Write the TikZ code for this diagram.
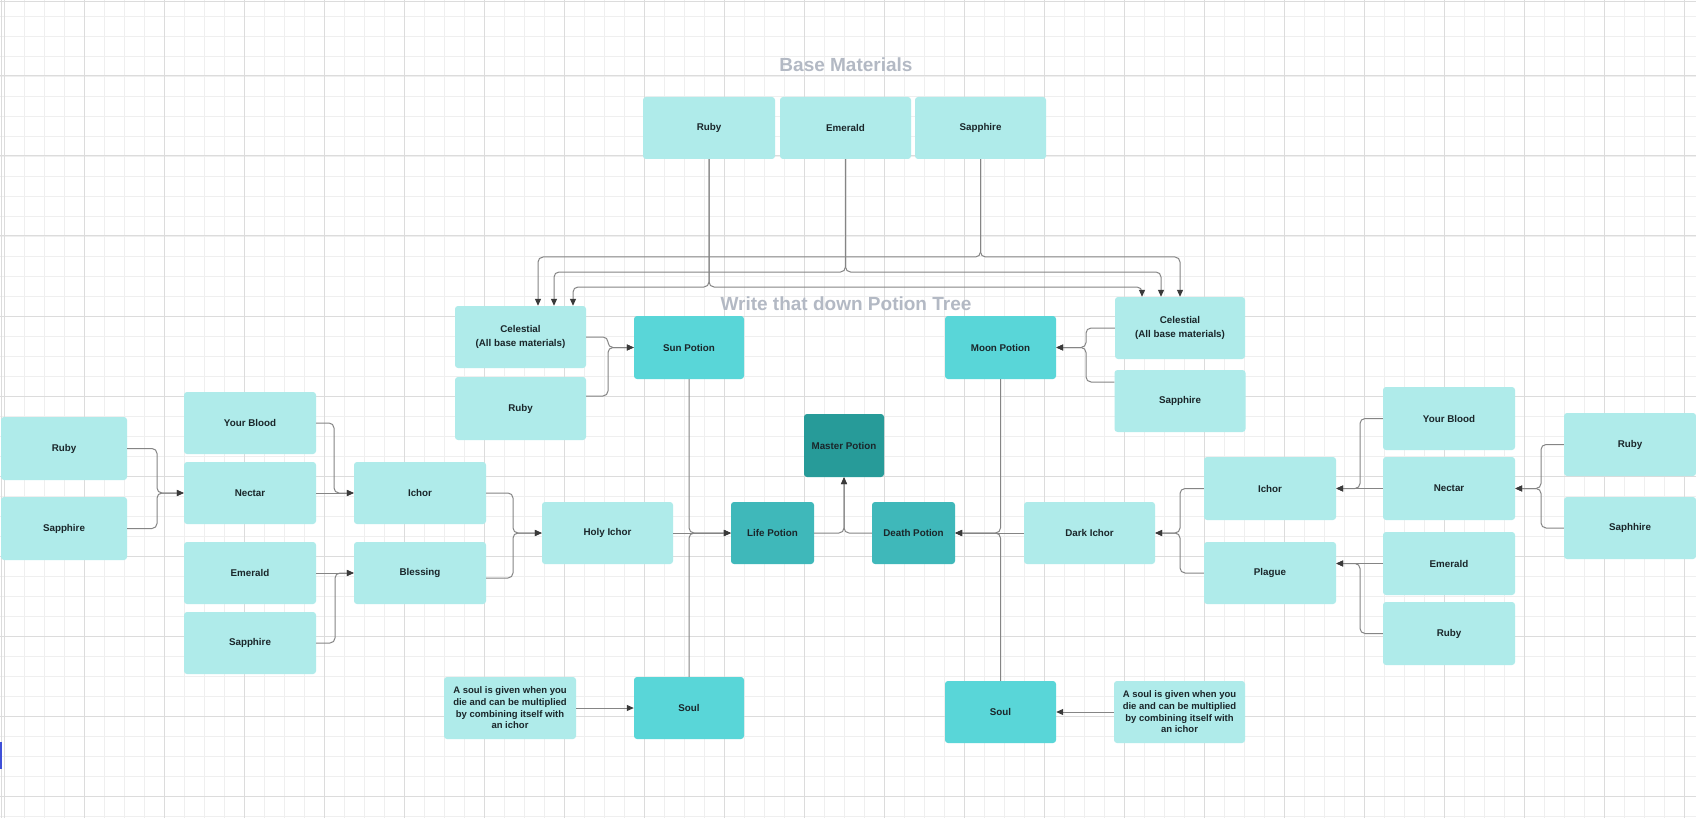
\documentclass[tikz,border=0pt]{standalone}
\usepackage{fontspec}
\setmainfont{Liberation Sans}
\usetikzlibrary{arrows.meta}
\definecolor{gridminor}{HTML}{EFEFEF}
\definecolor{gridmajor}{HTML}{DCDCDC}
\definecolor{lightfill}{HTML}{AFEBEA}
\definecolor{midfill}{HTML}{59D6D8}
\definecolor{deepfill}{HTML}{3FB8BA}
\definecolor{masterfill}{HTML}{279B99}
\definecolor{txtcol}{HTML}{1A262A}
\definecolor{conncol}{HTML}{858585}
\definecolor{tipcol}{HTML}{3A3A3A}
\definecolor{titlecol}{HTML}{B3B9C4}
\definecolor{uiblue}{HTML}{3F4FD8}
\begin{document}
\begin{tikzpicture}[x=1pt,y=-1pt,
  sz/.style 2 args={minimum width=#1pt, minimum height=#2pt},
  box/.style={draw=none, rounded corners=3pt, inner sep=0pt, align=center,
    font=\bfseries\fontsize{9.8}{11.7}\selectfont, text=txtcol},
  lbox/.style={box, fill=lightfill},
  mbox/.style={box, fill=midfill},
  dbox/.style={box, fill=deepfill},
  xbox/.style={box, fill=masterfill},
  conn/.style={draw=conncol, line width=1pt, rounded corners=5pt,
    -{Triangle[length=7pt,width=6pt,color=tipcol]}},
  titletext/.style={font=\bfseries\fontsize{19}{22}\selectfont, text=titlecol, inner sep=0pt}]
% canvas
\fill[white] (0,0) rectangle (1696,818);
\useasboundingbox (0,0) rectangle (1696,818);
\foreach \i in {0,...,84} {\draw[gridminor, line width=0.8pt] ({4+20*\i},0) -- ({4+20*\i},818);}
\foreach \i in {0,...,40} {\draw[gridminor, line width=0.8pt] (0,{16+20*\i}) -- (1696,{16+20*\i});}
\foreach \i in {0,...,21} {\draw[gridmajor, line width=1pt] ({4+80*\i},0) -- ({4+80*\i},818);}
\foreach \i in {0,...,9} {\draw[gridmajor, line width=1pt] (0,{76+80*\i}) -- (1696,{76+80*\i});}
\draw[gridmajor, line width=1pt] (1.5,0) -- (1.5,818);
\draw[gridmajor, line width=1pt] (0,1.5) -- (1696,1.5);
\fill[uiblue] (0,742) rectangle (1.5,769);

% titles
\node[titletext] (t1) at (846,64.5) {Base Materials};
\node[titletext] (t2) at (846,303.5) {Write that down Potion Tree};

% base materials
\node[lbox,sz={132}{62}] (rubyT) at (709,128) {Ruby};
\node[lbox,sz={131}{62}] (emeraldT) at (845.5,128) {Emerald};
\node[lbox,sz={131}{62}] (sapphT) at (980.5,128) {Sapphire};

% upper row
\node[lbox,sz={131}{62},font=\bfseries\fontsize{9.8}{13.3}\selectfont] (celL) at (520.5,337) {Celestial\\(All base materials)};
\node[lbox,sz={131}{63}] (rubyS) at (520.5,408.5) {Ruby};
\node[mbox,sz={110}{63}] (sun) at (689,347.5) {Sun Potion};
\node[mbox,sz={111}{63}] (moon) at (1000.5,347.5) {Moon Potion};
\node[lbox,sz={130}{62},font=\bfseries\fontsize{9.8}{13.3}\selectfont] (celR) at (1180,328) {Celestial\\(All base materials)};
\node[lbox,sz={131}{62}] (sapphS) at (1180,401) {Sapphire};

% centre
\node[xbox,sz={80}{63}] (master) at (844,445.5) {Master Potion};
\node[dbox,sz={83}{62}] (life) at (772.5,533) {Life Potion};
\node[dbox,sz={83}{62}] (death) at (913.5,533) {Death Potion};
\node[lbox,sz={131}{62}] (holy) at (607.5,533) {Holy Ichor};
\node[lbox,sz={131}{62}] (dark) at (1089.5,533) {Dark Ichor};

% left chain
\node[lbox,sz={126}{63}] (rubyL) at (64,448.5) {Ruby};
\node[lbox,sz={126}{63}] (sapphL) at (64,528.5) {Sapphire};
\node[lbox,sz={132}{62}] (ybL) at (250,423) {Your Blood};
\node[lbox,sz={132}{62}] (nectarL) at (250,493) {Nectar};
\node[lbox,sz={132}{62}] (emeraldL) at (250,573) {Emerald};
\node[lbox,sz={132}{62}] (sapph2L) at (250,643) {Sapphire};
\node[lbox,sz={132}{62}] (ichorL) at (420,493) {Ichor};
\node[lbox,sz={132}{62}] (blessing) at (420,573) {Blessing};
\node[lbox,sz={132}{62},font=\bfseries\fontsize{9.5}{11.7}\selectfont] (stL) at (510,708) {A soul is given when you\\die and can be multiplied\\by combining itself with\\an ichor};
\node[mbox,sz={110}{62}] (soulL) at (689,708) {Soul};

% right chain
\node[lbox,sz={132}{63}] (ybR) at (1449,418.5) {Your Blood};
\node[lbox,sz={132}{63}] (nectarR) at (1449,488.5) {Nectar};
\node[lbox,sz={132}{63}] (emeraldR) at (1449,563.5) {Emerald};
\node[lbox,sz={132}{63}] (rubyR2) at (1449,633.5) {Ruby};
\node[lbox,sz={132}{63}] (rubyRF) at (1630,444.5) {Ruby};
\node[lbox,sz={132}{62}] (saphR) at (1630,528) {Saphhire};
\node[lbox,sz={132}{63}] (ichorR) at (1270,488.5) {Ichor};
\node[lbox,sz={132}{62}] (plague) at (1270,573) {Plague};
\node[mbox,sz={111}{62}] (soulR) at (1000.5,712) {Soul};
\node[lbox,sz={131}{62},font=\bfseries\fontsize{9.5}{11.7}\selectfont] (stR) at (1179.5,712) {A soul is given when you\\die and can be multiplied\\by combining itself with\\an ichor};

% base materials to celestials
\draw[conn] (sapphT.south) -- (980.5,257) -- (538,257) -- ([xshift=17.5pt]celL.north);
\draw[conn] (sapphT.south) -- (980.5,257) -- (1180,257) -- (celR.north);
\draw[conn] (emeraldT.south) -- (845.5,272) -- (554,272) -- ([xshift=33.5pt]celL.north);
\draw[conn] (emeraldT.south) -- (845.5,272) -- (1161,272) -- ([xshift=-19pt]celR.north);
\draw[conn] (rubyT.south) -- (709,287) -- (573,287) -- ([xshift=52.5pt]celL.north);
\draw[conn] (rubyT.south) -- (709,287) -- (1142,287) -- ([xshift=-38pt]celR.north);

% to sun / moon
\draw[conn] (celL.east) -- (608,337) -- (608,347.5) -- (sun.west);
\draw[conn] ([yshift=12.5pt]rubyS.east) -- (608,396) -- (608,347.5) -- (sun.west);
\draw[conn] (celR.west) -- (1086,328) -- (1086,347.5) -- (moon.east);
\draw[conn] ([yshift=19pt]sapphS.west) -- (1086,382) -- (1086,347.5) -- (moon.east);

% left chain
\draw[conn] (rubyL.east) -- (157,448.5) -- (157,493) -- (nectarL.west);
\draw[conn] (sapphL.east) -- (157,528.5) -- (157,493) -- (nectarL.west);
\draw[conn] (ybL.east) -- (334,423) -- (334,493) -- (ichorL.west);
\draw[conn] (nectarL.east) -- (ichorL.west);
\draw[conn] (emeraldL.east) -- (blessing.west);
\draw[conn] (sapph2L.east) -- (335,643) -- (335,573) -- (blessing.west);
\draw[conn] (ichorL.east) -- (513,493) -- (513,533) -- (holy.west);
\draw[conn] ([yshift=-5pt]blessing.east) -- (513,578) -- (513,533) -- (holy.west);

% into life potion
\draw[conn] (sun.south) -- (689,533) -- (life.west);
\draw[conn] (soulL.north) -- (689,533) -- (life.west);
\draw[conn] (holy.east) -- (life.west);
\draw[conn] (stL.east) -- (soulL.west);

% right chain
\draw[conn] (rubyRF.west) -- (1541,444.5) -- (1541,488.5) -- (nectarR.east);
\draw[conn] (saphR.west) -- (1541,528) -- (1541,488.5) -- (nectarR.east);
\draw[conn] (ybR.west) -- (1360,418.5) -- (1360,488.5) -- (ichorR.east);
\draw[conn] (nectarR.west) -- (ichorR.east);
\draw[conn] (emeraldR.west) -- ([yshift=9.5pt]plague.east);
\draw[conn] (rubyR2.west) -- (1360,633.5) -- (1360,563.5) -- ([yshift=9.5pt]plague.east);
\draw[conn] (ichorR.west) -- (1180,488.5) -- (1180,533) -- (dark.east);
\draw[conn] (plague.west) -- (1180,573) -- (1180,533) -- (dark.east);

% into death potion
\draw[conn] (moon.south) -- (1000.5,533) -- (death.east);
\draw[conn] (soulR.north) -- (1000.5,533) -- (death.east);
\draw[conn] (dark.west) -- (death.east);
\draw[conn] (stR.west) -- (soulR.east);

% into master potion
\draw[conn] (life.east) -- (844,533) -- (master.south);
\draw[conn] (death.west) -- (844,533) -- (master.south);
\end{tikzpicture}
\end{document}
